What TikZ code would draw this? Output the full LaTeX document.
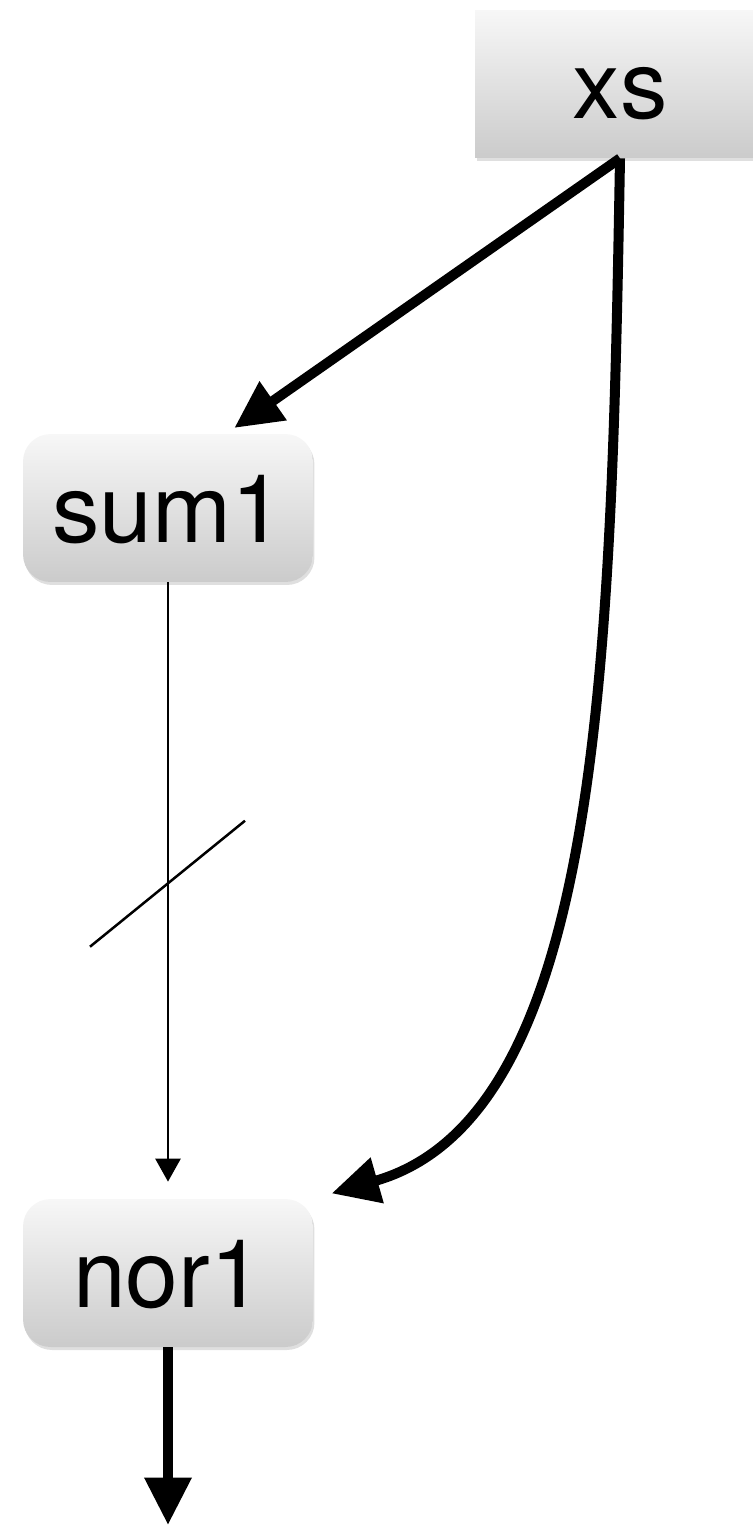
\documentclass[tikz,border=0pt]{standalone}
\usepackage{fontspec}
\setmainfont{TeX Gyre Heros}
\usetikzlibrary{shadows,arrows.meta}
\definecolor{boxtop}{RGB}{247,247,247}
\definecolor{boxbottom}{RGB}{203,203,203}

\begin{document}
\begin{tikzpicture}[x=0.02cm,y=-0.02cm,
  opbox/.style={minimum width=5.8cm, minimum height=2.96cm, inner sep=0pt,
    top color=boxtop, bottom color=boxbottom,
    drop shadow={shadow xshift=0.03cm, shadow yshift=-0.06cm, opacity=0.25},
    font=\fontsize{54}{60}\selectfont, text height=1.38cm, text depth=0pt},
  fatline/.style={line width=0.2cm, -{Triangle[length=0.95cm,width=0.9cm]}},
  thinline/.style={line width=0.05cm, -{Triangle[length=0.46cm,width=0.5cm]}}]
\useasboundingbox (0,0) rectangle (753,1525);
% Operations
\node[opbox] (xs) at (620,84) {xs};
\node[opbox, rounded corners=0.55cm] (sum1) at (168,508) {sum1};
\node[opbox, rounded corners=0.55cm] (nor1) at (168,1273) {nor1};
\coordinate (result) at (168,1525);
% Edges
\draw[fatline, shorten >=0.2cm] (xs.south) -- (sum1.52);
\draw[fatline, shorten >=0.38cm] (xs.south) to[out=-91, in=16, out distance=10cm, in distance=6cm] (nor1.north east);
\draw[thinline, shorten >=0.34cm] (sum1.south) -- coordinate[pos=0.489] (cut) (nor1.north);
\draw[line width=0.05cm] ([shift={(-78,63)}]cut) -- ([shift={(77,-63)}]cut);
\draw[fatline] (nor1.south) -- (result);
\end{tikzpicture}
\end{document}
